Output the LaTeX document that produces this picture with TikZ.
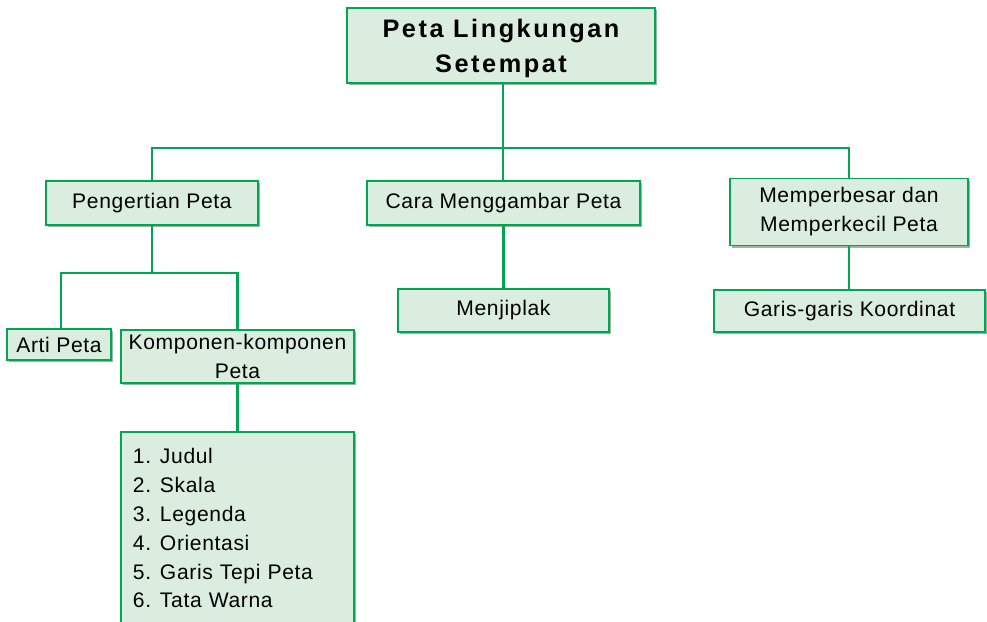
\documentclass[tikz,border=0pt]{standalone}
\usepackage{fontspec}
\setmainfont{Liberation Sans}[LetterSpace=3]
\newfontfamily\judulfont{Liberation Sans}[LetterSpace=10]
\usetikzlibrary{shadows}
\definecolor{petagreen}{RGB}{0,166,81}
\definecolor{petafill}{RGB}{218,237,223}
\definecolor{petashade}{RGB}{150,185,160}
\tikzset{
	kotak/.style={draw=petagreen, line width=1.2pt, fill=petafill, inner sep=0pt, align=center,
		drop shadow={shadow xshift=0.05cm, shadow yshift=-0.05cm, fill=petashade, opacity=1},
		font=\fontsize{15}{20.6}\selectfont},
	hubung/.style={draw=petagreen, line width=2pt}
}
\newcommand{\nomor}[1]{\makebox[0.675cm][l]{#1}}

\begin{document}
\begin{tikzpicture}[x=0.025cm, y=-0.025cm]
			%%%%% START %%%%%
			\useasboundingbox (0, 0) rectangle (987, 621);
			\clip (0, 0) rectangle (987, 621);
			
			\node[kotak, minimum width=7.7cm, minimum height=1.875cm, text depth=0pt, font=\judulfont\bfseries\fontsize{18}{24.9}\selectfont] (judul) at (501, 45.5) {Peta Lingkungan\\Setempat};
			
			\node[kotak, minimum width=5.3cm, minimum height=1.1cm] (pengertian) at (152, 203) {Pengertian Peta};
			\node[kotak, minimum width=6.825cm, minimum height=1.1cm] (cara) at (503.5, 203) {Cara Menggambar Peta};
			\node[kotak, minimum width=5.95cm, minimum height=1.675cm] (besar) at (849, 212) {Memperbesar dan\\Memperkecil Peta};
			
			\node[kotak, minimum width=2.6cm, minimum height=0.775cm] (arti) at (59, 344.5) {Arti Peta};
			\node[kotak, minimum width=5.825cm, minimum height=1.325cm] (komponen) at (237.5, 356.5) {Komponen-komponen\\Peta};
			\node[kotak, minimum width=5.275cm, minimum height=1.075cm] (jiplak) at (503.5, 310.5) {Menjiplak};
			\node[kotak, minimum width=6.775cm, minimum height=1.05cm] (koordinat) at (849.5, 311) {Garis-garis Koordinat};
			
			\node[kotak, anchor=north, align=left, text width=5.225cm, inner xsep=0.3cm, inner ysep=0.4cm] (daftar) at (237.5, 431) {\nomor{1.}Judul\\\nomor{2.}Skala\\\nomor{3.}Legenda\\\nomor{4.}Orientasi\\\nomor{5.}Garis Tepi Peta\\\nomor{6.}Tata Warna};
			
			% cabang utama
			\coordinate (j1) at (503, 148);
			\draw[hubung] (j1 |- judul.south) -- (j1);
			\draw[hubung] (pengertian.north) |- (j1) -| (besar.north);
			\draw[hubung] (j1) -- (j1 |- cara.north);
			
			% cabang pengertian
			\coordinate (j2) at (152, 273);
			\draw[hubung] (pengertian.south) -- (j2);
			\draw[hubung] ([xshift=0.05cm]arti.north) |- (j2) -| (komponen.north);
			\draw[hubung] (komponen.south) -- (daftar.north);
			
			\draw[hubung] (cara.south) -- (jiplak.north);
			\draw[hubung] (besar.south) -- (besar.south |- koordinat.north);
			%%%%% END %%%%%
\end{tikzpicture}
\end{document}
